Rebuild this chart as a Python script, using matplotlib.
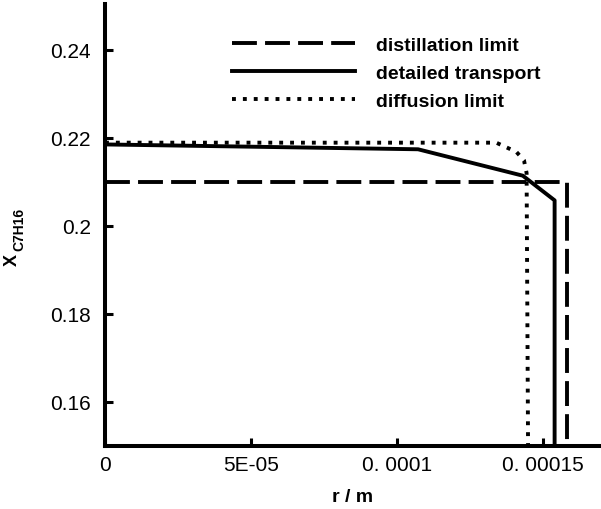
import matplotlib
matplotlib.use("Agg")
import matplotlib.pyplot as plt

plt.rcParams['font.family'] = ['Liberation Sans', 'DejaVu Sans']

# data
dist_r = [0.0, 0.0001585, 0.0001585]
dist_x = [0.2100, 0.2100, 0.15]
det_r = [0.0, 0.0001073, 0.0001432, 0.0001541, 0.0001541]
det_x = [0.2185, 0.2174, 0.2114, 0.2058, 0.15]
dif_r = [0.0, 0.0001341, 0.0001410, 0.0001436, 0.0001445, 0.0001450]
dif_x = [0.2189, 0.2189, 0.2168, 0.2149, 0.2120, 0.15]
xticks = [0.0, 0.00005, 0.0001, 0.00015]
xtick_labels = ['0', '5E-05', '0. 0001', '0. 00015']
yticks = [0.16, 0.18, 0.20, 0.22, 0.24]
ytick_labels = ['0.16', '0.18', '0.2', '0.22', '0.24']

fig = plt.figure(figsize=(6.01, 5.10), dpi=100)
ax = fig.add_axes([105/601, 1-447/510, 1-105/601, (447-5)/510])

lw = 2.8
ax.plot(dist_r, dist_x, color='black', lw=lw, dashes=(6.4, 2.1), label='distillation limit')
ax.plot(det_r, det_x, color='black', lw=lw, label='detailed transport')
ax.plot(dif_r, dif_x, color='black', lw=lw, dashes=(1.0, 1.8), label='diffusion limit')

ax.set_xlim(0, 0.00017)
ax.set_ylim(0.15, 0.2504)
ax.set_xticks(xticks)
ax.set_xticklabels(xtick_labels)
ax.set_yticks(yticks)
ax.set_yticklabels(ytick_labels)
ax.tick_params(direction='in', length=6, width=2.2, labelsize=15)
ax.tick_params(axis='x', pad=6.5)
ax.tick_params(axis='y', pad=10)

for s in ['top', 'right']:
    ax.spines[s].set_visible(False)
for s in ['left', 'bottom']:
    ax.spines[s].set_linewidth(2.9)

ax.set_xlabel('r / m', fontsize=14, fontweight='bold', labelpad=10)

# y label: X with subscript C7H16
fig.text(12/601, 1-260/510, 'X', rotation=90, fontsize=13, fontweight='bold',
         ha='center', va='center')
fig.text(19.5/601, 1-229.5/510, 'C7H16', rotation=90, fontsize=10, fontweight='bold',
         ha='center', va='center')

leg = ax.legend(loc='upper left', bbox_to_anchor=(232/601, 1-37/510),
                bbox_transform=fig.transFigure, frameon=False,
                borderpad=0, borderaxespad=0, handlelength=6.3,
                handletextpad=1.1, labelspacing=0.55,
                prop={'weight': 'bold', 'size': 14})

fig.savefig('out.png', dpi=100)
